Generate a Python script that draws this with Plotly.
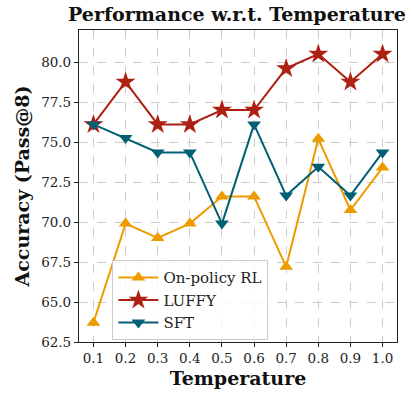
import plotly.graph_objects as go

temps = [0.1, 0.2, 0.3, 0.4, 0.5, 0.6, 0.7, 0.8, 0.9, 1.0]
onpolicy = [63.7, 69.9, 69.0, 69.9, 71.6, 71.6, 67.2, 75.2, 70.75, 73.4]
luffy = [76.1, 78.75, 76.1, 76.1, 77.0, 77.0, 79.6, 80.5, 78.75, 80.5]
sft = [76.1, 75.25, 74.35, 74.35, 69.9, 76.1, 71.65, 73.45, 71.65, 74.35]
xticks = ["0.1", "0.2", "0.3", "0.4", "0.5", "0.6", "0.7", "0.8", "0.9", "1.0"]
yticks = [62.5, 65.0, 67.5, 70.0, 72.5, 75.0, 77.5, 80.0]

FONT = "DejaVu Serif"

fig = go.Figure()
fig.add_trace(go.Scatter(x=temps, y=onpolicy, name="On-policy RL", mode="lines+markers",
                         line=dict(color="#EE9B00", width=2),
                         marker=dict(symbol="triangle-up", size=12, color="#EE9B00")))
fig.add_trace(go.Scatter(x=temps, y=luffy, name="LUFFY", mode="lines+markers",
                         line=dict(color="#AE2012", width=2),
                         marker=dict(symbol="star", size=15, color="#AE2012")))
fig.add_trace(go.Scatter(x=temps, y=sft, name="SFT", mode="lines+markers",
                         line=dict(color="#005F73", width=2),
                         marker=dict(symbol="triangle-down", size=12, color="#005F73")))

fig.update_layout(
    width=412, height=393,
    margin=dict(l=79, r=15, t=30, b=51),
    paper_bgcolor="white", plot_bgcolor="white",
    font=dict(family=FONT, size=13, color="#222"),
    title=dict(text="<b>Performance w.r.t. Temperature</b>", x=0.575, xanchor="center",
               y=0.964, yanchor="middle", font=dict(family=FONT, size=19, color="#111")),
    xaxis=dict(title=dict(text="<b>Temperature</b>", font=dict(size=19, color="#111"), standoff=6),
               tickvals=temps, ticktext=xticks, range=[0.055, 1.045], automargin=False,
               showline=True, linecolor="#222", linewidth=1.2, mirror=True,
               ticks="outside", ticklen=4, tickcolor="#222",
               showgrid=True, gridcolor="#cccccc", griddash="dash", gridwidth=1,
               zeroline=False, tickfont=dict(size=13.5)),
    yaxis=dict(title=dict(text="<b>Accuracy (Pass@8)</b>", font=dict(size=19, color="#111"), standoff=6),
               tickvals=yticks, ticktext=[f"{v:.1f}" for v in yticks], range=[62.5, 82.0], automargin=False,
               showline=True, linecolor="#222", linewidth=1.2, mirror=True,
               ticks="outside", ticklen=4, tickcolor="#222",
               showgrid=True, gridcolor="#cccccc", griddash="dash", gridwidth=1,
               zeroline=False, tickfont=dict(size=13.5)),
    legend=dict(x=0.105, y=0.262, xanchor="left", yanchor="top",
                bgcolor="rgba(255,255,255,0.8)", bordercolor="#cccccc", borderwidth=1,
                font=dict(size=15), itemwidth=40, tracegroupgap=0),
    showlegend=True,
)

fig.write_html("out.html")
